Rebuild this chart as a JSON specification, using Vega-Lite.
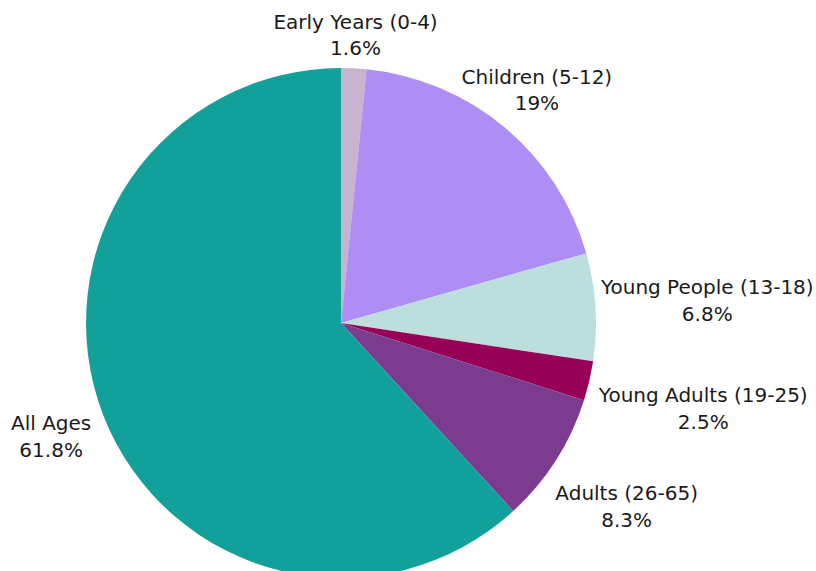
{
  "$schema": "https://vega.github.io/schema/vega-lite/v6.json",
  "width": 682,
  "height": 496,
  "autosize": {"type": "none"},
  "padding": {"left": 0, "top": 75, "right": 134, "bottom": 0},
  "background": "white",
  "view": {"stroke": null},
  "config": {"text": {"font": "DejaVu Sans", "fontSize": 20, "fill": "#1a1a1a", "lineBreak": "\n", "lineHeight": 26.5, "align": "center", "baseline": "middle", "dy": -11.5}},
  "data": {"values": [
    {"group": "Early Years (0-4)", "pct": 1.6},
    {"group": "Children (5-12)", "pct": 19},
    {"group": "Young People (13-18)", "pct": 6.8},
    {"group": "Young Adults (19-25)", "pct": 2.5},
    {"group": "Adults (26-65)", "pct": 8.3},
    {"group": "All Ages", "pct": 61.8}
  ]},
  "transform": [
    {"window": [{"op": "row_number", "as": "idx"}]},
    {"calculate": "datum.group + '\\n' + datum.pct + '%'", "as": "label"}
  ],
  "encoding": {
    "theta": {"field": "pct", "type": "quantitative", "stack": true},
    "order": {"field": "idx", "type": "quantitative"},
    "detail": {"field": "group", "type": "nominal"}
  },
  "layer": [
    {
      "mark": {"type": "arc", "outerRadius": 255},
      "encoding": {
        "color": {
          "field": "group", "type": "nominal", "legend": null,
          "scale": {
            "domain": ["Early Years (0-4)", "Children (5-12)", "Young People (13-18)", "Young Adults (19-25)", "Adults (26-65)", "All Ages"],
            "range": ["#c7b5cf", "#ae8df4", "#bcdedc", "#960057", "#7b3c8f", "#12a09a"]
          }
        }
      }
    },
    {
      "mark": {"type": "text", "radius": 289},
      "encoding": {"text": {"condition": {"test": "datum.group === 'Early Years (0-4)'", "field": "label", "type": "nominal"}, "value": ""}}
    },
    {
      "mark": {"type": "text", "radius": 305},
      "encoding": {"text": {"condition": {"test": "datum.group === 'Children (5-12)'", "field": "label", "type": "nominal"}, "value": ""}}
    },
    {
      "mark": {"type": "text", "radius": 367},
      "encoding": {"text": {"condition": {"test": "datum.group === 'Young People (13-18)'", "field": "label", "type": "nominal"}, "value": ""}}
    },
    {
      "mark": {"type": "text", "radius": 372},
      "encoding": {"text": {"condition": {"test": "datum.group === 'Young Adults (19-25)'", "field": "label", "type": "nominal"}, "value": ""}}
    },
    {
      "mark": {"type": "text", "radius": 339},
      "encoding": {"text": {"condition": {"test": "datum.group === 'Adults (26-65)'", "field": "label", "type": "nominal"}, "value": ""}}
    },
    {
      "mark": {"type": "text", "radius": 311},
      "encoding": {"text": {"condition": {"test": "datum.group === 'All Ages'", "field": "label", "type": "nominal"}, "value": ""}}
    }
  ]
}
